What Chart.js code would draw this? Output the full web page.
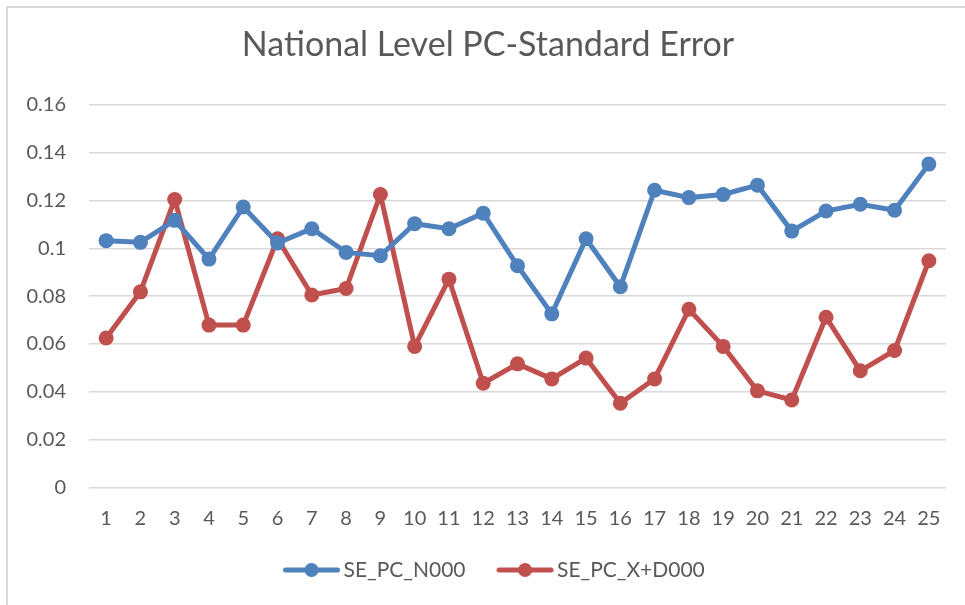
<!DOCTYPE html>
<html>
<head>
<meta charset="utf-8">
<script src="https://cdn.jsdelivr.net/npm/chart.js@4"></script>
<style>
  body { margin: 0; background: #fff; }
  #wrap { position: relative; width: 965px; height: 605px; }
  #frame { position: absolute; left: 6px; top: 6px; width: 970px; height: 620px;
           border-left: 2px solid #d9d9d9; border-top: 2px solid #d9d9d9; }
</style>
</head>
<body>
<div id="wrap">
  <canvas id="seChart" width="965" height="605"></canvas>
  <div id="frame"></div>
</div>
<script>
const categories = ['1','2','3','4','5','6','7','8','9','10','11','12','13','14','15','16','17','18','19','20','21','22','23','24','25'];
const seN000 = [0.1032, 0.1025, 0.1117, 0.0955, 0.1173, 0.1022, 0.1082, 0.0983, 0.0969, 0.1103, 0.1082, 0.1147, 0.0927, 0.0726, 0.1040, 0.0839, 0.1243, 0.1212, 0.1225, 0.1264, 0.1072, 0.1156, 0.1184, 0.1159, 0.1352];
const seXD000 = [0.0625, 0.0818, 0.1204, 0.0679, 0.0679, 0.1040, 0.0805, 0.0832, 0.1225, 0.0590, 0.0871, 0.0436, 0.0517, 0.0454, 0.0541, 0.0352, 0.0454, 0.0745, 0.0590, 0.0404, 0.0366, 0.0712, 0.0488, 0.0573, 0.0948];
const yTicks = [0, 0.02, 0.04, 0.06, 0.08, 0.1, 0.12, 0.14, 0.16];

const blue = '#4f81bd';
const red = '#c0504d';
const textColor = '#595959';

// legend marker: line with a dot; drawn in the right part of the image so
// the items get a wider gap between them
function legendMark(color) {
    const c = document.createElement('canvas');
    c.width = 80;
    c.height = 16;
    const g = c.getContext('2d');
    g.strokeStyle = color;
    g.lineWidth = 5;
    g.lineCap = 'round';
    g.beginPath();
    g.moveTo(24.5, 8);
    g.lineTo(76.5, 8);
    g.stroke();
    g.fillStyle = color;
    g.beginPath();
    g.arc(50.5, 8, 7, 0, Math.PI * 2);
    g.fill();
    return c;
}

// nudge title and legend sideways, Excel centres them a bit right of ours
const nudge = {
    id: 'nudge',
    afterLayout(chart) {
        const lg = chart.legend;
        const pad = lg.options.labels.padding;
        const start = (lg.left + pad + lg.right - lg.lineWidths[0]) / 2;
        const dx = 269 - start;
        lg.left += dx;
        lg.right += dx;
        chart.titleBlock.left += 15;
        chart.titleBlock.right += 15;
    }
};

const ctx = document.getElementById('seChart').getContext('2d');
const seChart = new Chart(ctx, {
    type: 'line',
    data: {
        labels: categories,
        datasets: [{
            label: 'SE_PC_N000',
            data: seN000,
            borderColor: blue,
            backgroundColor: blue,
            borderWidth: 5,
            pointRadius: 7.5,
            pointBorderWidth: 0,
            pointStyle: 'circle',
            tension: 0
        }, {
            label: 'SE_PC_X+D000',
            data: seXD000,
            borderColor: red,
            backgroundColor: red,
            borderWidth: 5,
            pointRadius: 7.5,
            pointBorderWidth: 0,
            pointStyle: 'circle',
            tension: 0
        }]
    },
    options: {
        responsive: false,
        animation: false,
        layout: { padding: { left: 0, right: 19, top: 0, bottom: 14.5 } },
        scales: {
            x: {
                offset: true,
                grid: { display: false },
                border: { display: false },
                ticks: { color: textColor, font: { family: 'Lato', size: 20 }, padding: 11.5, autoSkip: false, maxRotation: 0 }
            },
            y: {
                min: 0,
                max: 0.16,
                afterFit: (scale) => { scale.width = 89; },
                afterBuildTicks: (scale) => { scale.ticks = yTicks.map(v => ({ value: v })); },
                grid: { color: '#d9d9d9', lineWidth: 1.5, drawTicks: false },
                border: { display: false },
                ticks: { color: textColor, font: { family: 'Lato', size: 20 }, padding: 23,
                         callback: (v) => String(Number(v.toFixed(2))) }
            }
        },
        plugins: {
            title: {
                display: true,
                text: 'National Level PC-Standard Error',
                color: textColor,
                font: { family: 'Lato', size: 34, weight: 'normal' },
                padding: { top: 25, bottom: 39 }
            },
            legend: {
                position: 'bottom',
                labels: {
                    color: textColor,
                    font: { family: 'Lato', size: 21 },
                    usePointStyle: true,
                    pointStyleWidth: 64,
                    padding: 17,
                    generateLabels: (chart) => chart.data.datasets.map((ds, i) => ({
                        text: ds.label,
                        pointStyle: legendMark(ds.borderColor),
                        fillStyle: ds.borderColor,
                        strokeStyle: ds.borderColor,
                        lineWidth: 0,
                        fontColor: textColor,
                        datasetIndex: i
                    }))
                }
            },
            tooltip: { enabled: false }
        }
    },
    plugins: [nudge]
});
</script>
</body>
</html>
